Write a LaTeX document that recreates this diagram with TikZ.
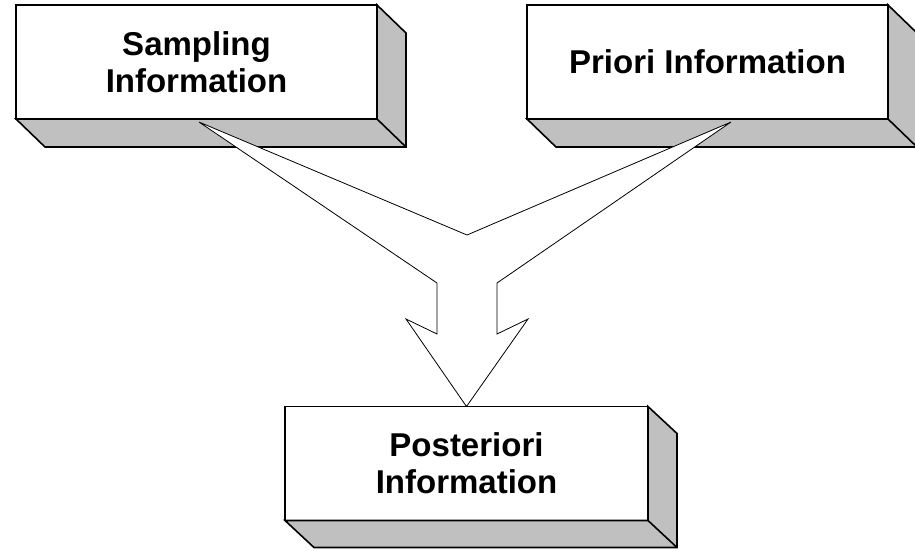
\documentclass[tikz,border=0pt]{standalone}
\usepackage{fontspec}
\setmainfont{Liberation Sans}
\usetikzlibrary{calc}
\definecolor{facegray}{RGB}{192,192,192}
\tikzset{
  infobox/.style={draw, line width=1.6pt, fill=white, inner sep=0pt, outer sep=0pt,
    minimum width=361pt, minimum height=114pt, align=center,
    font=\fontsize{33}{37}\selectfont\bfseries},
  boxside/.style={draw, line width=1.6pt, fill=facegray, line join=miter},
  bigarrow/.style={draw, line width=0.8pt, fill=white, line join=miter}
}
\begin{document}
\begin{tikzpicture}[x=1pt,y=-1pt]
    \useasboundingbox (0,0) rectangle (915,550); % page size
    \node[infobox] (sampling) at (196.5,62) {Sampling\\Information}; % upper left box
    \node[infobox] (priori) at (707.5,62) {Priori Information}; % upper right box
    \node[infobox,minimum width=363pt] (posteriori) at (466.5,463.5) {Posteriori\\Information}; % lower box
    \draw[boxside] (sampling.north east) -- ++(29,28) -- ($(sampling.south east)+(29,28)$) -- ($(sampling.south west)+(29,28)$) -- (sampling.south west) -- (sampling.south east) -- cycle; % sampling depth
    \draw[boxside] (sampling.south east) -- ++(29,28); % sampling corner
    \draw[boxside] (priori.north east) -- ++(29,28) -- ($(priori.south east)+(29,28)$) -- ($(priori.south west)+(29,28)$) -- (priori.south west) -- (priori.south east) -- cycle; % priori depth
    \draw[boxside] (priori.south east) -- ++(29,28); % priori corner
    \draw[boxside] (posteriori.north east) -- ++(29,27) -- ($(posteriori.south east)+(29,27)$) -- ($(posteriori.south west)+(29,27)$) -- (posteriori.south west) -- (posteriori.south east) -- cycle; % posteriori depth
    \draw[boxside] (posteriori.south east) -- ++(29,27); % posteriori corner
    \coordinate (leftarm) at ($(sampling.south west)+(183,3)$); % left arm start
    \coordinate (rightarm) at ($(priori.south west)+(204,3)$); % right arm start
    \coordinate (fork) at (467,235); % where the arms meet
    \draw[bigarrow] (leftarm) -- (fork) -- (rightarm) -- (497,283) -- (497,334) -- (528,319) -- (posteriori.north) -- (406,319) -- (437,334) -- (437,283) -- cycle; % merging arrow
\end{tikzpicture}
\end{document}
